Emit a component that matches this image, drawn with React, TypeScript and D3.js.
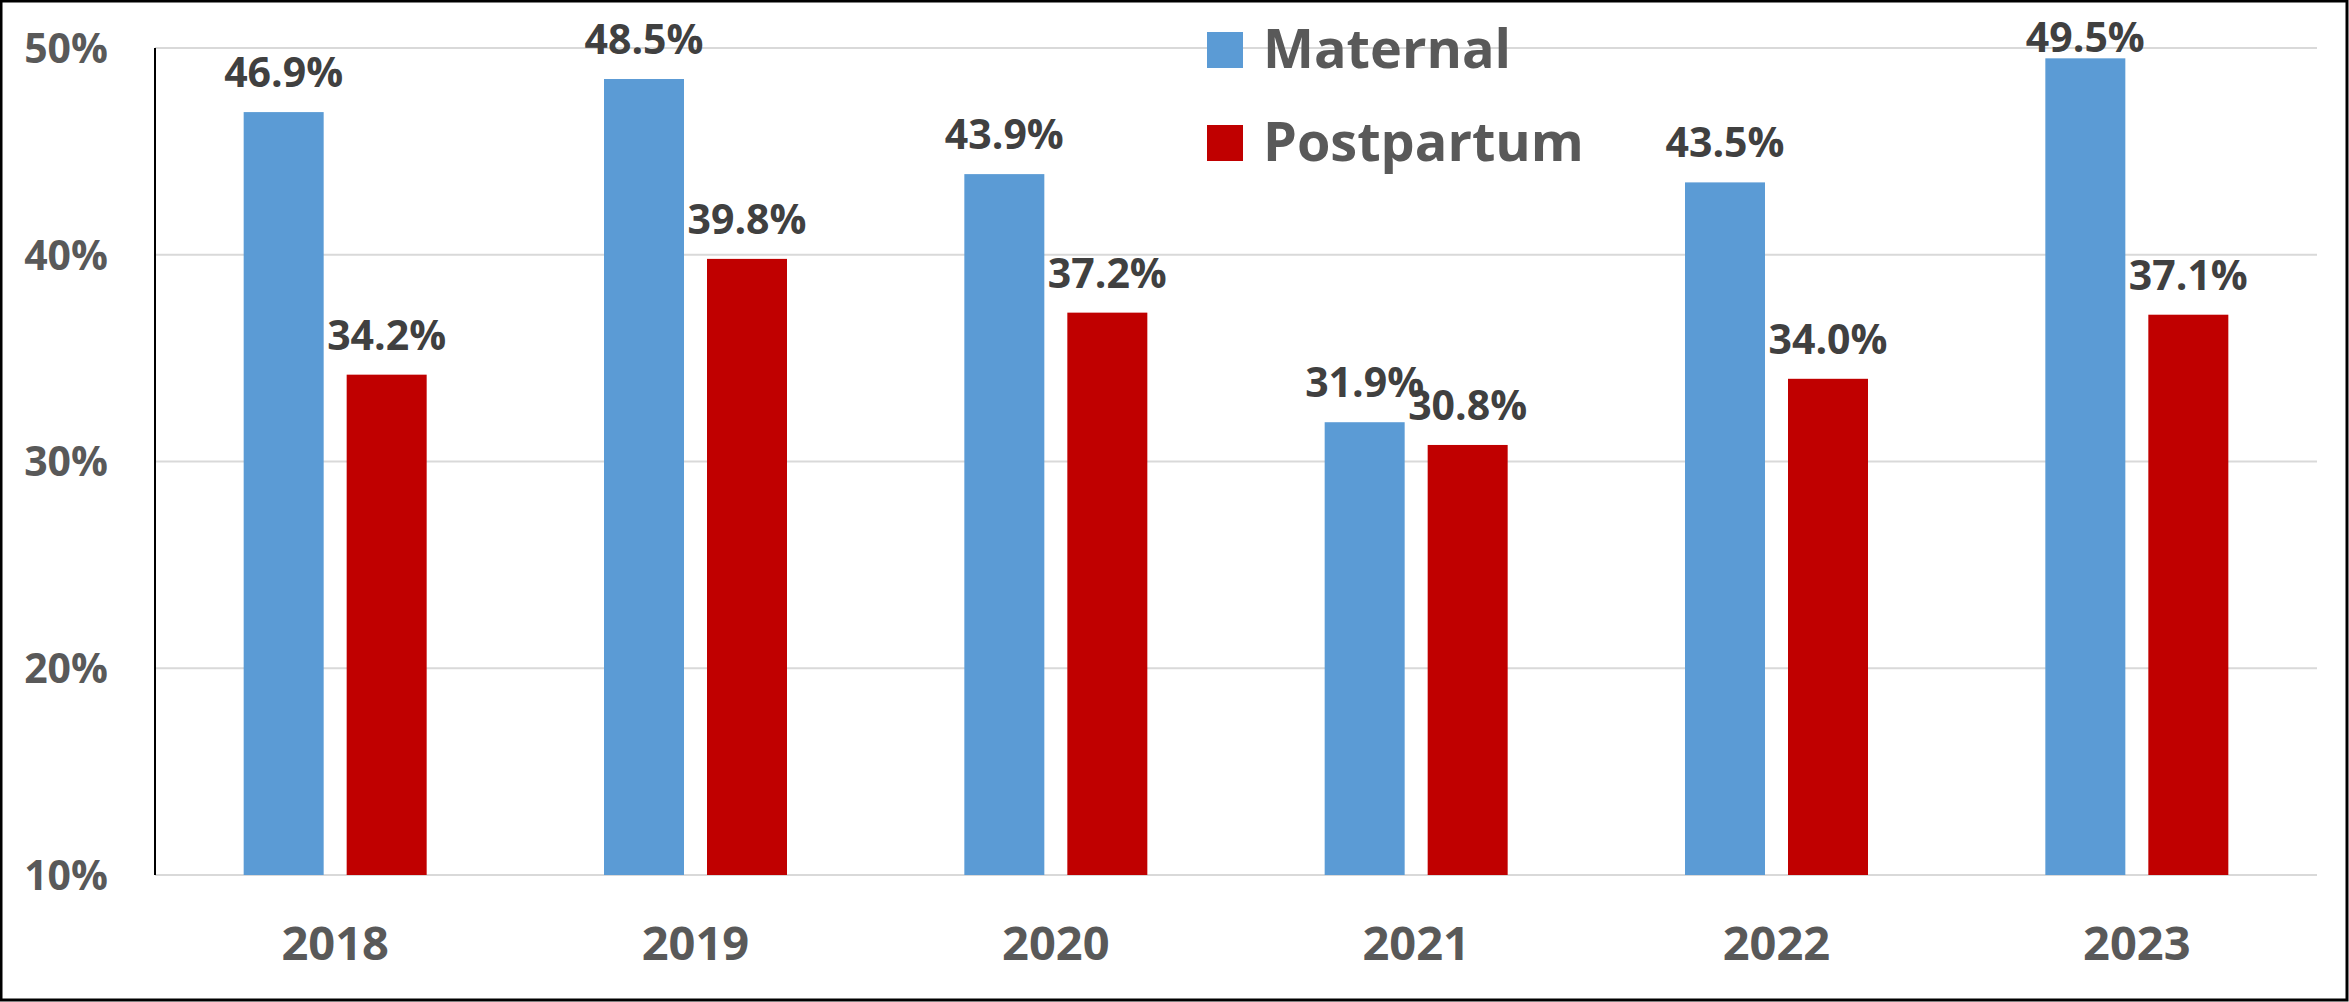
import { useEffect, useRef } from 'react'
import * as d3 from 'd3'

const years = ['2018', '2019', '2020', '2021', '2022', '2023']
const maternal = [46.9, 48.5, 43.9, 31.9, 43.5, 49.5]
const postpartum = [34.2, 39.8, 37.2, 30.8, 34.0, 37.1]
const yTicks = [10, 20, 30, 40, 50]
const seriesNames = ['Maternal', 'Postpartum']
const seriesColors = ['#5B9BD5', '#C00000']

export default function App() {
  const svgRef = useRef<SVGSVGElement>(null)

  useEffect(() => {
    if (!svgRef.current) return
    const svg = d3.select(svgRef.current)
    svg.selectAll('*').remove()

    const width = 2349
    const height = 1002
    const font = '"Open Sans", "DejaVu Sans", sans-serif'
    const left = 155, right = 2317, top = 48, bottom = 875

    svg.attr('width', width).attr('height', height)

    svg.append('rect')
      .attr('x', 1).attr('y', 1)
      .attr('width', width - 3).attr('height', height - 3)
      .style('fill', '#fff').style('stroke', '#000').style('stroke-width', 3)

    const x = d3.scaleBand().domain(years).range([left, right])
    const y = d3.scaleLinear().domain([10, 50]).range([bottom, top])

    // gridlines
    svg.append('g').selectAll('line').data(yTicks).join('line')
      .attr('x1', left).attr('x2', right)
      .attr('y1', d => y(d)).attr('y2', d => y(d))
      .style('stroke', '#d9d9d9').style('stroke-width', 2)

    // y axis labels
    svg.append('g').selectAll('text').data(yTicks).join('text')
      .attr('x', 108).attr('y', d => y(d))
      .attr('dy', '0.36em')
      .attr('text-anchor', 'end')
      .style('font-family', font).style('font-weight', 700)
      .style('font-size', '41px').style('fill', '#595959')
      .text(d => `${d}%`)

    // y axis line
    svg.append('line')
      .attr('x1', left).attr('x2', left)
      .attr('y1', top).attr('y2', bottom)
      .style('stroke', '#000').style('stroke-width', 2)

    const barW = 80
    const gap = 23
    const series = [maternal, postpartum]

    series.forEach((vals, si) => {
      const g = svg.append('g')
      const bx = (i: number) => x(years[i])! + x.bandwidth() / 2 + (si === 0 ? -gap / 2 - barW : gap / 2)
      g.selectAll('rect').data(vals).join('rect')
        .attr('x', (d, i) => bx(i))
        .attr('y', d => y(d))
        .attr('width', barW)
        .attr('height', d => y(10) - y(d))
        .style('fill', seriesColors[si])
      // labels sit above the bar, but are kept inside the chart at the top
      g.selectAll('text').data(vals).join('text')
        .attr('x', (d, i) => bx(i) + barW / 2)
        .attr('y', d => Math.max(y(d) - 25, 52))
        .attr('text-anchor', 'middle')
        .style('font-family', font).style('font-weight', 700)
        .style('font-size', '41px').style('fill', '#404040')
        .text(d => `${d.toFixed(1)}%`)
    })

    // x axis labels
    svg.append('g').selectAll('text').data(years).join('text')
      .attr('x', d => x(d)! + x.bandwidth() / 2)
      .attr('y', 943)
      .attr('dy', '0.36em')
      .attr('text-anchor', 'middle')
      .style('font-family', font).style('font-weight', 700)
      .style('font-size', '47px').style('fill', '#595959')
      .text(d => d)

    // legend
    const legend = svg.append('g').attr('transform', 'translate(1207, 32)')
    seriesNames.forEach((name, i) => {
      const row = legend.append('g').attr('transform', `translate(0, ${i * 93})`)
      row.append('rect').attr('width', 36).attr('height', 36).style('fill', seriesColors[i])
      row.append('text')
        .attr('x', 56).attr('y', 36)
        .style('font-family', font).style('font-weight', 700)
        .style('font-size', '54px').style('fill', '#595959')
        .text(name)
    })
  }, [])

  return <svg ref={svgRef} style={{ position: 'absolute', top: 0, left: 0 }}></svg>
}
